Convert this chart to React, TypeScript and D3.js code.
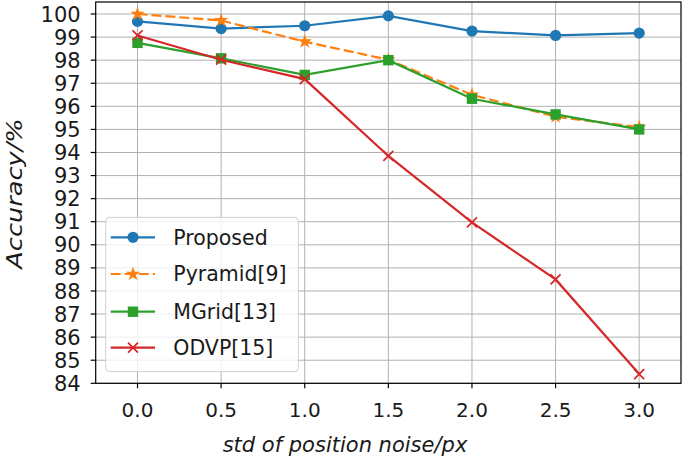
import React from "react";
import * as d3 from "d3";

const noise = [0.0, 0.5, 1.0, 1.5, 2.0, 2.5, 3.0];
const proposed = [99.68, 99.37, 99.49, 99.92, 99.26, 99.07, 99.17];
const pyramid = [100.0, 99.72, 98.8, 98.02, 96.5, 95.55, 95.1];
const mgrid = [98.75, 98.08, 97.36, 98.0, 96.33, 95.65, 95.0];
const odvp = [99.07, 98.02, 97.18, 93.85, 90.97, 88.5, 84.4];
const xTicks = [0.0, 0.5, 1.0, 1.5, 2.0, 2.5, 3.0];
const yTicks = d3.range(84, 101, 1);
const seriesNames = ["Proposed", "Pyramid[9]", "MGrid[13]", "ODVP[15]"];
const seriesColors = ["#1f77b4", "#ff7f0e", "#2ca02c", "#d62728"];
const seriesMarkers = ["circle", "star", "square", "x"];
const seriesDash = ["", "10,4", "", ""];

const W = 685;
const H = 458;
const L = 95.7, R = 681, T = 2, B = 383.3;
const FONT = "'DejaVu Sans', sans-serif";
const TEXT = "#1a1a1a";

function Marker({ kind, cx, cy, color }: { kind: string; cx: number; cy: number; color: string }) {
  if (kind === "circle") return <circle cx={cx} cy={cy} r={5.6} fill={color} />;
  if (kind === "square") return <rect x={cx - 5.2} y={cy - 5.2} width={10.4} height={10.4} fill={color} />;
  if (kind === "star") {
    const p = d3.symbol(d3.symbolStar, 65)();
    return <path d={p || ""} transform={`translate(${cx},${cy})`} fill={color} />;
  }
  const s = 5;
  return (
    <path
      d={`M${cx - s},${cy - s}L${cx + s},${cy + s}M${cx - s},${cy + s}L${cx + s},${cy - s}`}
      stroke={color}
      strokeWidth={1.7}
      fill="none"
    />
  );
}

export default function App() {
  const x = d3.scaleLinear().domain([-0.25, 3.25]).range([L, R]);
  const y = d3.scaleLinear().domain([84, 100.52]).range([B, T]);
  const data = [proposed, pyramid, mgrid, odvp];
  const line = d3
    .line<number>()
    .x((_, i) => x(noise[i]))
    .y((d) => y(d));

  const legX = 105.7, legY = 217.3, legW = 192.6, legH = 154.4;
  const legRows = [237.3, 274, 311.7, 347.7];

  return (
    <svg
      width={W}
      height={H}
      style={{ position: "absolute", left: 0, top: 0, background: "#fff" }}
      fontFamily={FONT}
    >
      <rect width={W} height={H} fill="#fff" />
      {/* grid */}
      {xTicks.map((t) => (
        <line key={"gx" + t} x1={x(t)} x2={x(t)} y1={T} y2={B} stroke="#b0b0b0" strokeWidth={1} />
      ))}
      {yTicks.map((t) => (
        <line key={"gy" + t} x1={L} x2={R} y1={y(t)} y2={y(t)} stroke="#b0b0b0" strokeWidth={1} />
      ))}
      {/* series */}
      {data.map((d, si) => (
        <g key={"s" + si}>
          <path
            d={line(d) || ""}
            fill="none"
            stroke={seriesColors[si]}
            strokeWidth={2.2}
            strokeDasharray={seriesDash[si] || undefined}
          />
          {d.map((v, i) => (
            <Marker key={i} kind={seriesMarkers[si]} cx={x(noise[i])} cy={y(v)} color={seriesColors[si]} />
          ))}
        </g>
      ))}
      {/* frame */}
      <rect x={L} y={T} width={R - L} height={B - T} fill="none" stroke="#000" strokeWidth={1.2} />
      {/* ticks */}
      {xTicks.map((t) => (
        <g key={"tx" + t}>
          <line x1={x(t)} x2={x(t)} y1={B} y2={B + 5} stroke="#000" strokeWidth={1.2} />
          <text x={x(t)} y={417} textAnchor="middle" fontSize={20} fill={TEXT}>
            {t.toFixed(1)}
          </text>
        </g>
      ))}
      {yTicks.map((t) => (
        <g key={"ty" + t}>
          <line x1={L - 5} x2={L} y1={y(t)} y2={y(t)} stroke="#000" strokeWidth={1.2} />
          <text x={80.7} y={y(t)} dy="0.36em" textAnchor="end" fontSize={21} fill={TEXT}>
            {t}
          </text>
        </g>
      ))}
      {/* axis labels */}
      <text x={345} y={452} textAnchor="middle" fontSize={21} fontStyle="italic" fill={TEXT}>
        std of position noise/px
      </text>
      <text
        transform={`translate(21.5,193.5) rotate(-90) scale(1.22,1)`}
        textAnchor="middle"
        fontSize={21}
        fontStyle="italic"
        fill={TEXT}
      >
        Accuracy/%
      </text>
      {/* legend */}
      <rect x={legX} y={legY} width={legW} height={legH} rx={4} fill="#fff" fillOpacity={0.8} stroke="#d0d0d0" strokeWidth={1} />
      {seriesNames.map((n, i) => (
        <g key={"l" + i}>
          <line
            x1={110.7}
            x2={155}
            y1={legRows[i]}
            y2={legRows[i]}
            stroke={seriesColors[i]}
            strokeWidth={2.2}
            strokeDasharray={seriesDash[i] || undefined}
          />
          <Marker kind={seriesMarkers[i]} cx={133} cy={legRows[i]} color={seriesColors[i]} />
          <text x={173.3} y={legRows[i]} dy="0.36em" fontSize={20.5} fill={TEXT}>
            {n}
          </text>
        </g>
      ))}
    </svg>
  );
}
